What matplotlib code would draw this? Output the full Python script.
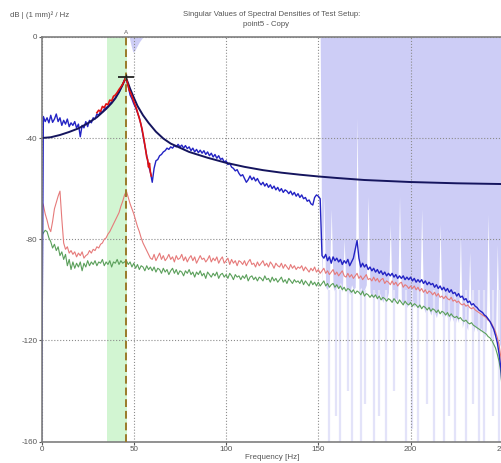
import matplotlib
matplotlib.use("Agg")
import matplotlib.pyplot as plt
import numpy as np

plt.rcParams['font.family'] = ['Liberation Sans', 'DejaVu Sans']
plt.rcParams['axes.unicode_minus'] = False

# frequency grid of the measured spectra [Hz]
freq = np.arange(0, 251, 1.0)

# first singular value (measured)
sv1_db = [
    -160.0, -31.5, -33.5, -32.0, -34.0, -31.0, -33.8, -32.5, -30.5, -33.5,
    -32.0, -35.0, -33.0, -34.5, -32.5, -35.5, -34.0, -35.0, -33.5, -36.0,
    -34.5, -39.5, -35.0, -36.0, -33.5, -35.5, -33.0, -34.0, -32.0, -32.5,
    -30.5, -31.0, -29.5, -29.8, -28.5, -28.0, -27.5, -26.5, -25.8, -25.0,
    -24.2, -23.0, -22.0, -20.5, -19.0, -17.0, -17.0, -19.5, -23.0, -24.5,
    -26.5, -28.0, -30.0, -32.0, -35.0, -39.0, -43.0, -47.0, -51.0, -53.5,
    -57.5, -52.0, -49.0, -48.5, -47.0, -46.5, -45.5, -45.0, -44.0, -44.5,
    -43.5, -44.0, -43.0, -43.5, -42.5, -43.5, -42.8, -44.0, -43.0, -44.2,
    -43.5, -45.0, -44.0, -45.5, -44.5, -45.8, -44.8, -46.0, -45.0, -46.5,
    -45.5, -47.0, -46.0, -47.5, -46.5, -48.0, -47.0, -48.5, -48.0, -49.5,
    -49.0, -50.5, -50.0, -51.5, -52.0, -53.0, -52.5, -54.0, -55.0, -54.5,
    -56.0, -57.5, -56.5, -55.0, -56.5, -55.5, -57.0, -56.0, -57.5, -58.5,
    -57.5, -59.0, -58.0, -59.5, -58.5, -60.0, -59.0, -60.5, -59.5, -61.0,
    -60.0, -61.5, -60.5, -61.0, -62.0, -61.0, -62.5, -61.5, -63.0, -62.0,
    -63.5, -62.5, -64.0, -63.5, -65.0, -64.5, -66.0, -66.5, -63.5, -62.5,
    -63.0, -64.0, -86.5, -87.5, -86.0, -88.5, -87.0, -89.5, -87.0, -88.5,
    -87.5, -89.0, -88.0, -90.0, -88.5, -89.5, -88.0, -90.5, -89.0, -87.5,
    -84.0, -80.5, -87.5, -91.0, -89.5, -91.0, -90.0, -92.0, -91.0, -92.5,
    -91.5, -93.0, -92.0, -93.5, -92.5, -94.0, -93.0, -94.5, -93.5, -94.5,
    -93.5, -95.0, -94.0, -95.5, -94.5, -95.5, -94.5, -96.0, -95.0, -96.0,
    -95.0, -96.5, -95.5, -97.0, -96.0, -97.0, -96.0, -97.5, -96.5, -98.0,
    -97.0, -98.0, -97.5, -99.0, -98.0, -99.5, -98.5, -100.0, -99.0, -100.5,
    -99.5, -101.0, -100.0, -101.5, -101.0, -102.5, -101.5, -103.0, -102.5, -104.0,
    -103.5, -105.0, -104.5, -106.0, -105.5, -106.5, -107.0, -108.0, -108.5, -109.0,
    -110.0, -110.5, -111.5, -112.5, -114.0, -115.5, -118.0, -121.0, -125.5, -131.5,
    -143.0,
]

# second singular value
sv2_db = [
    -65.0, -66.5, -70.0, -72.5, -75.5, -77.0, -73.0, -68.0, -65.5, -63.0,
    -61.0, -72.0, -81.5, -84.0, -83.0, -85.5, -84.5, -86.0, -85.0, -87.0,
    -85.5, -86.5, -85.0, -87.5, -86.5, -86.0, -84.5, -85.5, -84.0, -84.5,
    -83.0, -83.5, -82.0, -81.5, -80.0, -79.5, -78.0, -77.0, -75.5, -74.0,
    -72.5, -71.0, -69.5, -67.0, -65.0, -62.5, -61.0, -63.5, -66.0, -68.0,
    -70.0, -72.5, -75.0, -77.0, -79.5, -81.5, -83.0, -84.5, -86.0, -87.5,
    -88.0, -86.0, -88.5, -87.0, -85.5, -88.0, -86.5, -88.5, -87.5, -86.0,
    -88.0, -87.0, -89.0, -86.5, -88.0, -87.5, -86.0, -88.5, -87.0, -89.0,
    -87.5, -86.5, -88.5, -87.0, -89.5, -88.0, -86.5, -88.0, -87.5, -89.0,
    -88.0, -86.5, -89.0, -87.5, -88.5, -87.0, -89.5, -88.0, -87.0, -89.5,
    -88.5, -87.5, -90.0, -88.0, -89.5, -88.5, -90.5, -88.5, -89.0, -90.0,
    -88.5, -90.5, -89.0, -88.0, -90.0, -89.5, -91.0, -89.0, -90.5, -89.5,
    -88.5, -90.5, -89.5, -91.0, -89.0, -90.0, -91.5, -89.5, -90.5, -91.0,
    -89.5, -91.5, -90.0, -91.0, -92.0, -90.0, -91.5, -90.5, -92.0, -91.0,
    -91.5, -90.5, -92.5, -91.0, -92.0, -93.0, -91.5, -92.5, -91.0, -93.0,
    -92.0, -93.5, -92.5, -91.5, -93.5, -92.5, -94.0, -93.0, -92.0, -94.0,
    -93.0, -94.5, -93.5, -92.5, -94.5, -95.0, -93.5, -95.0, -94.0, -95.5,
    -94.5, -93.5, -95.5, -94.5, -96.0, -95.0, -94.0, -96.0, -95.5, -96.5,
    -95.0, -96.5, -95.5, -97.0, -96.0, -95.5, -97.5, -96.5, -97.0, -98.0,
    -96.5, -98.0, -97.0, -98.5, -97.5, -97.0, -99.0, -98.0, -98.5, -99.5,
    -98.5, -99.5, -98.5, -100.0, -99.0, -100.5, -99.5, -101.0, -100.0, -101.5,
    -100.5, -101.0, -102.0, -101.0, -102.5, -101.5, -103.0, -102.5, -103.5, -102.5,
    -103.5, -104.0, -103.0, -104.5, -104.0, -105.0, -104.5, -105.5, -106.0, -105.5,
    -106.5, -106.0, -107.0, -107.5, -107.0, -108.0, -108.5, -109.0, -109.5, -110.0,
    -110.5, -111.0, -112.0, -112.5, -113.5, -115.0, -116.5, -119.0, -122.0, -127.0,
    -140.0,
]

# third singular value
sv3_db = [
    -79.0, -77.5, -76.5, -77.0, -79.5, -81.0, -83.5, -82.0, -84.5, -83.0,
    -86.5, -85.0, -88.0, -86.0, -90.5, -88.0, -92.0, -89.0, -91.5, -89.5,
    -91.0, -89.0, -92.5, -89.5, -91.0, -88.5, -90.5, -89.0, -90.0, -88.5,
    -90.5, -89.0, -89.5, -88.0, -90.5, -89.0, -90.0, -88.5, -91.0, -89.0,
    -89.5, -88.0, -90.0, -88.5, -89.5, -89.0, -88.5, -90.0, -89.0, -91.0,
    -89.5, -91.5, -90.0, -92.0, -90.5, -91.0, -92.5, -90.5, -92.0, -91.0,
    -92.5, -91.0, -93.0, -91.5, -92.0, -93.5, -91.5, -93.0, -92.0, -94.0,
    -92.5, -91.5, -93.5, -92.0, -94.0, -92.5, -93.0, -94.5, -92.5, -93.5,
    -92.0, -94.0, -93.0, -95.0, -93.0, -94.0, -92.5, -94.5, -93.5, -95.5,
    -93.0, -94.0, -95.0, -93.5, -94.5, -93.0, -95.5, -94.0, -93.5, -95.0,
    -94.0, -95.5, -93.5, -94.5, -96.0, -94.0, -95.0, -94.5, -96.0, -94.5,
    -95.5, -94.0, -96.5, -95.0, -94.5, -96.0, -95.0, -96.5, -95.0, -95.5,
    -96.5, -94.5, -96.0, -95.5, -97.0, -95.0, -96.5, -95.5, -97.0, -96.0,
    -95.0, -97.0, -96.0, -97.5, -95.5, -96.5, -97.5, -96.0, -97.0, -96.5,
    -97.5, -96.0, -98.0, -96.5, -97.5, -98.5, -96.5, -98.0, -97.0, -98.5,
    -97.0, -98.5, -97.5, -96.5, -98.5, -97.5, -99.0, -98.0, -97.5, -99.0,
    -98.0, -99.5, -98.5, -100.0, -99.0, -100.5, -99.5, -100.0, -101.0, -100.0,
    -101.5, -100.5, -101.0, -102.0, -100.5, -102.5, -101.5, -102.0, -103.0, -102.0,
    -103.0, -102.0, -103.5, -102.5, -104.0, -103.0, -103.5, -104.5, -103.5, -104.0,
    -105.0, -103.5, -104.5, -105.5, -104.0, -105.0, -106.0, -104.5, -105.5, -106.0,
    -105.0, -106.5, -105.5, -106.0, -107.0, -106.0, -107.5, -106.5, -107.0, -108.0,
    -107.0, -108.5, -107.5, -108.0, -109.0, -108.0, -109.5, -108.5, -109.0, -110.0,
    -109.0, -110.5, -109.5, -110.5, -111.0, -110.5, -111.5, -111.0, -112.0, -112.5,
    -112.0, -113.0, -113.5, -113.0, -114.0, -114.5, -115.0, -115.5, -116.0, -116.5,
    -117.0, -117.5, -118.5, -119.0, -120.0, -121.5, -123.0, -125.5, -128.5, -133.0,
    -145.0,
]

# part of SV1 used for the mode estimate
fit_f = [30, 31, 32, 33, 34, 35, 36, 37, 38, 39, 40, 41, 42, 43, 44, 45, 45.7,
         46.5, 47.5, 48.5, 49.5, 50.5, 51.5, 52.5, 53.5, 54.5, 55.5, 56.5, 57.0,
         57.5, 58.0, 58.5, 59.0, 59.5]
fit_db = [-30.0, -29.0, -29.5, -27.5, -28.0, -26.5, -26.8, -25.0, -25.3, -23.5,
          -23.0, -22.0, -20.8, -19.8, -18.7, -17.2, -16.0,
          -18.0, -21.0, -22.5, -24.5, -26.5, -28.5, -31.0, -33.5, -36.5, -40.5,
          -45.0, -47.5, -48.5, -51.5, -50.0, -53.5, -55.0]

# synthesised single-mode curve
mode_f = [0, 5, 10, 15, 20, 25, 30, 35, 38, 40, 42, 44, 45, 45.7, 47, 48, 50,
          52, 55, 58, 62, 66, 70, 80, 90, 100, 110, 120, 130, 140, 150, 160,
          175, 200, 225, 250]
mode_db = [-40.0, -39.7, -38.8, -37.6, -36.2, -34.2, -31.8, -28.5, -26.2, -24.3,
           -21.8, -18.8, -17.2, -16.0, -18.5, -20.5, -24.0, -27.3, -31.0, -34.0,
           -37.5, -40.2, -42.2, -45.5, -47.8, -49.8, -51.4, -52.7, -53.7, -54.5,
           -55.2, -55.8, -56.6, -57.4, -57.9, -58.2]

peak_f = 45.7
peak_db = -16.0
band_lo, band_hi = 35.3, 46.3

# excluded (shaded) frequency ranges: lower edge of the shading
shade_top_f = [47.5, 48.4, 49.5, 50.5, 51.5, 53.0, 55.0]
shade_top_db = [0.0, -3.0, -6.0, -5.5, -4.0, -2.0, 0.0]

shade_f = np.arange(150, 251, 1.0)
shade_db = [
    0, 0, -98, -63, -99, -100, -97, -68, -99, -101,
    -98, -100, -97, -101, -80, -100, -99, -102, -98, -100,
    -99, -32, -101, -99, -102, -100, -98, -63, -101, -103,
    -100, -102, -104, -101, -103, -105, -102, -104, -101, -74,
    -104, -106, -103, -105, -63, -104, -106, -103, -107, -105,
    -106, -104, -107, -105, -108, -106, -68, -107, -109, -106,
    -108, -110, -107, -109, -111, -108, -74, -110, -112, -109,
    -111, -113, -110, -112, -114, -111, -113, -78, -115, -112,
    -114, -116, -85, -115, -117, -114, -116, -118, -115, -117,
    -119, -116, -70, -118, -120, -117, -119, -82, -121, -123, -125,
]
streak_f = [156, 159.5, 162, 166, 168.5, 173, 175.5, 180, 183, 186.5, 191,
            197.5, 201, 204, 209, 212.5, 218, 221, 224, 230, 234, 237, 240,
            244.5, 248]
streak_db = [-160, -150, -160, -140, -160, -160, -145, -160, -150, -160, -140,
             -160, -155, -160, -145, -160, -160, -150, -160, -160, -145, -160,
             -160, -150, -160]

fig = plt.figure(figsize=(5.02, 4.63), dpi=100)
ax = fig.add_axes([0.0827, 0.0464, 0.919, 0.874])

lav = '#cdcdf6'
ax.fill_between(shade_top_f, shade_top_db, 0, color=lav, lw=0, zorder=0)
ax.fill_between(shade_f, shade_db, 0, color=lav, lw=0, zorder=0)
ax.vlines(streak_f, streak_db, -100, color='#e3e3f9', lw=1.6, zorder=0)
ax.axvspan(band_lo, band_hi, color='#d2f5d2', lw=0, zorder=0.5)

ax.grid(True, ls=':', color='#8c8c8c', lw=0.8, zorder=1)

ax.plot(freq, sv3_db, color='#5a9f5a', lw=0.8, zorder=2)
ax.plot(freq, sv2_db, color='#e67a7a', lw=0.8, zorder=2.1)
ax.plot(freq, sv1_db, color='#2323c4', lw=1.0, zorder=2.2)
ax.plot(mode_f, mode_db, color='#15155e', lw=1.4, zorder=2.3)
ax.plot(fit_f, fit_db, color='#e01010', lw=1.2, zorder=2.4)

ax.axvline(peak_f, color='#9a7a2a', ls='--', lw=1.4, dashes=(4, 2), zorder=3)
ax.plot([peak_f], [peak_db], marker='_', ms=12, mew=1.3, color='#222222', zorder=4)
ax.plot([peak_f], [peak_db], marker='|', ms=4, mew=1.0, color='#222222', zorder=4)
ax.text(peak_f, 0.6, 'A', ha='center', va='bottom', fontsize=4.5, color='#666666')

ax.set_xlim(0, 250)
ax.set_ylim(-160, 0)
ax.set_xticks([0, 50, 100, 150, 200, 250])
ax.set_yticks([0, -40, -80, -120, -160])
ax.tick_params(labelsize=5.8, colors='#555555', length=2, pad=1)
for s in ax.spines.values():
    s.set_color('#7f7f7f')
    s.set_linewidth(1.2)

ax.set_xlabel('Frequency [Hz]', fontsize=5.8, color='#555555', labelpad=1)
fig.text(0.02, 0.968, 'dB | (1 mm)² / Hz', fontsize=5.6, color='#555555', va='center')
fig.text(0.541, 0.968, 'Singular Values of Spectral Densities of Test Setup:',
         fontsize=5.6, color='#555555', ha='center', va='center')
fig.text(0.53, 0.948, 'point5 - Copy', fontsize=5.6, color='#555555',
         ha='center', va='center')

fig.savefig('out.png', dpi=100)
